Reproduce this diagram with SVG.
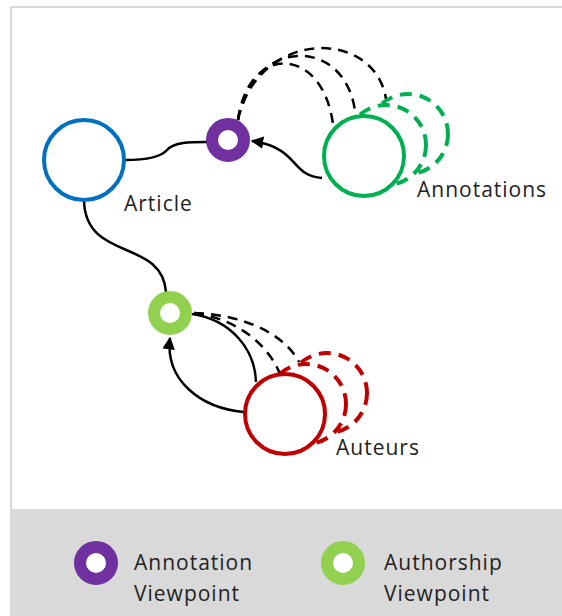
<svg xmlns="http://www.w3.org/2000/svg" width="562" height="616" viewBox="0 0 562 616">
<defs>
<style>
.lbl{font-family:"Open Sans","Noto Sans",sans-serif;font-size:21px;letter-spacing:1px;fill:#222}
.ln{fill:none;stroke:#000;stroke-width:2.5}
.dl{fill:none;stroke:#000;stroke-width:2.5;stroke-dasharray:10 7}
</style>
<marker id="ah" viewBox="0 0 10 10" refX="9" refY="5" markerWidth="5" markerHeight="5" orient="auto" markerUnits="strokeWidth"><path d="M0,0 L10,5 L0,10 z" fill="#000"/></marker>
</defs>
<rect x="0" y="0" width="562" height="616" fill="#fff"/>
<rect x="11" y="7" width="560" height="620" fill="#fff" stroke="#d9d9d9" stroke-width="2"/>
<rect x="12" y="509" width="560" height="110" fill="#d9d9d9"/>
<g id="connectors">
<path class="ln" d="M125,160 C150,160 162,156 167,150 C174,142 190,142 207,142"/>
<path class="ln" d="M84,201 C86,262 162,238 166,292"/>
<path class="ln" d="M322,178 C290,176 300,148 252,141" marker-end="url(#ah)"/>
<path class="dl" d="M238,120 C248,44 322,44 333,124"/>
<path class="dl" d="M238,120 C252,36 345,36 355,111"/>
<path class="dl" d="M238,120 C258,28 375,28 386,99"/>
<path class="ln" d="M244,412 C200,408 165,380 170,338" marker-end="url(#ah)"/>
<path class="ln" d="M192,314 C232,320 255,350 256,382"/>
<path class="dl" d="M194,313 C232,318 266,340 280,374"/>
<path class="dl" d="M194,313 C236,314 282,330 299,362"/>
</g>
<g id="article">
<circle cx="84" cy="160" r="40" fill="#fff" stroke="#0070c0" stroke-width="4"/>
<text class="lbl" x="124" y="211">Article</text>
</g>
<g id="annotation-viewpoint">
<circle cx="228" cy="140" r="16" fill="#fff" stroke="#7030a0" stroke-width="12"/>
</g>
<g id="annotations">
<circle cx="408" cy="134" r="40" fill="#fff" stroke="#00b050" stroke-width="4" stroke-dasharray="12 8"/>
<circle cx="386" cy="145" r="40" fill="#fff" stroke="#00b050" stroke-width="4" stroke-dasharray="12 8"/>
<circle cx="364" cy="156" r="40" fill="#fff" stroke="#00b050" stroke-width="4"/>
<text class="lbl" x="417" y="197">Annotations</text>
</g>
<g id="authorship-viewpoint">
<circle cx="170" cy="313" r="16" fill="#fff" stroke="#92d050" stroke-width="12"/>
</g>
<g id="auteurs">
<circle cx="327" cy="393" r="40" fill="#fff" stroke="#c00000" stroke-width="4" stroke-dasharray="12 8"/>
<circle cx="306" cy="404" r="40" fill="#fff" stroke="#c00000" stroke-width="4" stroke-dasharray="12 8"/>
<circle cx="285" cy="414" r="40" fill="#fff" stroke="#c00000" stroke-width="4"/>
<text class="lbl" x="336" y="455">Auteurs</text>
</g>
<g id="legend">
<circle cx="96" cy="563" r="16" fill="#fff" stroke="#7030a0" stroke-width="12"/>
<text class="lbl" x="134" y="570">Annotation</text>
<text class="lbl" x="134" y="601">Viewpoint</text>
<circle cx="343" cy="563" r="16" fill="#fff" stroke="#92d050" stroke-width="12"/>
<text class="lbl" x="384" y="570">Authorship</text>
<text class="lbl" x="384" y="601">Viewpoint</text>
</g>
</svg>
